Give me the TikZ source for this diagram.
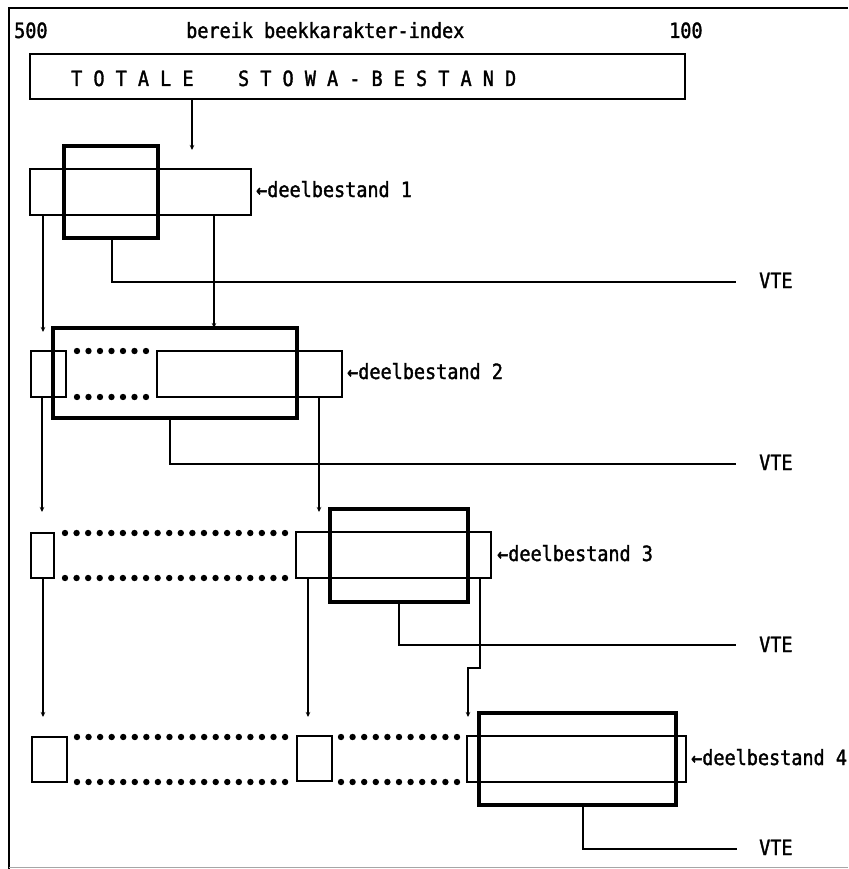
\documentclass[tikz,border=0pt]{standalone}
\usepackage{fontspec}
\newfontfamily\plotfont[FakeStretch=0.88,FakeBold=1.6]{DejaVu Sans Mono}
\usetikzlibrary{arrows.meta}
\begin{document}
\begin{tikzpicture}[x=1pt,y=-1pt,
  thinbox/.style={draw, rectangle, line width=1.4pt, inner sep=0pt, outer sep=0pt, anchor=north west},
  thickbox/.style={draw, rectangle, line width=3.4pt, inner sep=0pt, outer sep=0pt, anchor=north west},
  lbl/.style={anchor=base west, inner sep=0pt, font=\plotfont\fontsize{21}{21}\selectfont},
  conn/.style={line width=1.4pt},
  arr/.style={line width=1.4pt, -{Stealth[length=5pt,width=4.5pt]}},
  dotc/.style={fill=black}
]
\useasboundingbox (0,0) rectangle (848,869);
% frame
\draw[line width=1.5pt] (9,869) -- (9,8) -- (848,8);
\draw[line width=0.8pt, black!35] (9,867) -- (848,867);

% header texts
\node[lbl] (n500) at (14,38) {500};
\node[lbl] (head) at (186,38) {bereik beekkarakter-index};
\node[lbl] (n100) at (669,38) {100};

% total box
\node[thinbox, minimum width=655pt, minimum height=45pt] (T) at (30,54) {};
\node[lbl] (Ttext) at (71,86) {T\ O\ T\ A\ L\ E\ \ \ \ S\ T\ O\ W\ A\ -\ B\ E\ S\ T\ A\ N\ D};

% row 1
\node[thinbox, minimum width=221pt, minimum height=46pt] (d1) at (30,169) {};
\node[thickbox, minimum width=94pt, minimum height=92pt] (k1) at (64,146) {};
\node[lbl] (l1) at (256,197) {←deelbestand 1};

% row 2
\node[thinbox, minimum width=35pt, minimum height=46pt] (s2a) at (31,351) {};
\node[thinbox, minimum width=185pt, minimum height=46pt] (d2) at (157,351) {};
\node[thickbox, minimum width=244pt, minimum height=90pt] (k2) at (53,328) {};
\node[lbl] (l2) at (347,379) {←deelbestand 2};
\foreach \i in {0,...,6} {
  \fill[dotc] (77+11.5*\i,351) circle (3.2pt);
  \fill[dotc] (77+11.5*\i,397) circle (3.2pt);
}

% row 3
\node[thinbox, minimum width=23pt, minimum height=45pt] (s3a) at (31,533) {};
\node[thinbox, minimum width=195pt, minimum height=46pt] (d3) at (296,532) {};
\node[thickbox, minimum width=138pt, minimum height=93pt] (k3) at (330,509) {};
\node[lbl] (l3) at (497,561) {←deelbestand 3};
\foreach \i in {0,...,19} {
  \fill[dotc] (65+11.58*\i,533) circle (3.2pt);
  \fill[dotc] (65+11.58*\i,578) circle (3.2pt);
}

% row 4
\node[thinbox, minimum width=35pt, minimum height=45pt] (s4a) at (32,737) {};
\node[thinbox, minimum width=35pt, minimum height=45pt] (s4b) at (297,736) {};
\node[thinbox, minimum width=219pt, minimum height=46pt] (d4) at (467,736) {};
\node[thickbox, minimum width=197pt, minimum height=92pt] (k4) at (479,713) {};
\node[lbl] (l4) at (691,765) {←deelbestand 4};
\foreach \i in {0,...,18} {
  \fill[dotc] (77+11.56*\i,737) circle (3.2pt);
  \fill[dotc] (77+11.56*\i,782) circle (3.2pt);
}
\foreach \i in {0,...,10} {
  \fill[dotc] (341+11.6*\i,737) circle (3.2pt);
  \fill[dotc] (341+11.6*\i,782) circle (3.2pt);
}

% arrow tip coordinates
\coordinate (a0) at (192,150);
\coordinate (a2a) at (43,332);
\coordinate (a2b) at (214,0);
\coordinate (a3a) at (42,512);
\coordinate (a3b) at (319,512);
\coordinate (a4a) at (43,717);
\coordinate (a4b) at (308,717);
\coordinate (j3) at (480,668);
\coordinate (a4c) at (468,717);

% arrows
\draw[arr] (T.south -| a0) -- (a0);
\draw[arr] (d1.south -| a2a) -- (a2a);
\draw[arr] (d1.south -| a2b) -- (k2.north -| a2b);
\draw[arr] (s2a.south -| a3a) -- (a3a);
\draw[arr] (d2.south -| a3b) -- (a3b);
\draw[arr] (s3a.south -| a4a) -- (a4a);
\draw[arr] (d3.south -| a4b) -- (a4b);
\draw[arr] (d3.south -| j3) -- (j3) -| (a4c);

% VTE lines
\coordinate (c1) at (112,282); \coordinate (v1) at (736,282);
\coordinate (c2) at (170,464); \coordinate (v2) at (736,464);
\coordinate (c3) at (399,645); \coordinate (v3) at (736,645);
\coordinate (c4) at (583,849); \coordinate (v4) at (737,849);
\draw[conn] (k1.south -| c1) -- (c1) -- (v1);
\draw[conn] (k2.south -| c2) -- (c2) -- (v2);
\draw[conn] (k3.south -| c3) -- (c3) -- (v3);
\draw[conn] (k4.south -| c4) -- (c4) -- (v4);
\node[lbl] (vte1) at (759,288) {VTE};
\node[lbl] (vte2) at (759,470) {VTE};
\node[lbl] (vte3) at (759,652) {VTE};
\node[lbl] (vte4) at (759,855) {VTE};
\end{tikzpicture}
\end{document}
